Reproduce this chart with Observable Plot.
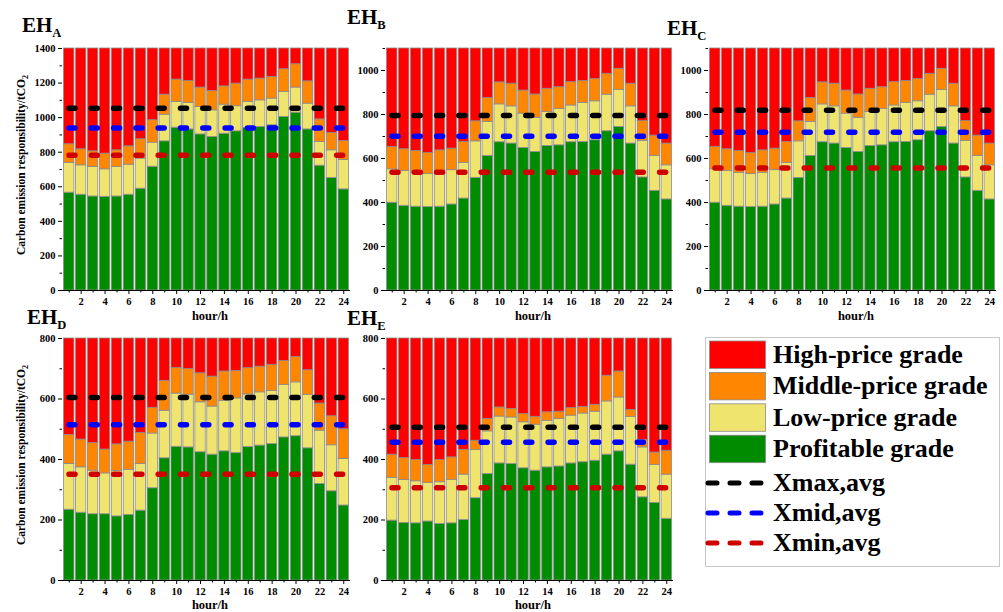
<!DOCTYPE html>
<html>
<head>
<meta charset="utf-8">
<script src="https://cdn.jsdelivr.net/npm/d3@7"></script>
<script src="https://cdn.jsdelivr.net/npm/@observablehq/plot@0.6"></script>
<style>
  body { margin: 0; background: #fff; }
  #fig { position: relative; width: 1003px; height: 612px; overflow: hidden; background: #fff; }
  #fig svg.panel { position: absolute; }
  #overlay { position: absolute; left: 0; top: 0; pointer-events: none; }
</style>
</head>
<body>
<div id="fig"></div>
<script>
// ---- shared categories -------------------------------------------------
const hours = d3.range(1, 25);
const hourTicks = [2, 4, 6, 8, 10, 12, 14, 16, 18, 20, 22, 24];
const grades = ["Profitable grade", "Low-price grade", "Middle-price grade", "High-price grade"];
const gradeColors = ["#008c00", "#efe46e", "#ff8600", "#ff0000"];
const avgNames = ["Xmax,avg", "Xmid,avg", "Xmin,avg"];
const avgColors = ["#000000", "#0000ff", "#d00000"];

// ---- EH_A: upper bound of each grade per hour (tCO2) ---------------------
const profitA = [566, 554, 544, 542, 544, 554, 589, 716, 863, 942, 932, 903, 888, 907, 921, 940, 946, 956, 1004, 1029, 932, 722, 651, 585];
const lowA    = [737, 724, 714, 701, 714, 728, 763, 855, 1017, 1091, 1085, 1062, 1042, 1075, 1066, 1091, 1100, 1110, 1149, 1174, 1081, 859, 811, 755];
const midA    = [846, 817, 805, 792, 811, 834, 875, 985, 1133, 1220, 1212, 1174, 1154, 1181, 1197, 1220, 1226, 1236, 1280, 1309, 1210, 990, 911, 865];
const avgA    = [1055, 940, 782];

// ---- EH_B ------------------------------------------------------------------
const profitB = [399, 385, 381, 379, 381, 391, 418, 512, 612, 674, 668, 648, 630, 657, 660, 674, 675, 683, 724, 743, 668, 514, 453, 414];
const lowB    = [551, 544, 535, 529, 535, 547, 580, 678, 766, 846, 837, 804, 785, 811, 825, 841, 853, 860, 890, 912, 837, 680, 612, 569];
const midB    = [653, 642, 634, 625, 637, 645, 675, 769, 875, 946, 940, 909, 891, 917, 924, 947, 952, 961, 985, 1008, 940, 770, 704, 668];
const avgB    = [796, 701, 538];

// ---- EH_C ------------------------------------------------------------------
const profitC = [399, 385, 381, 379, 381, 391, 418, 512, 612, 674, 668, 648, 630, 657, 660, 674, 675, 683, 724, 743, 668, 514, 453, 414];
const lowC    = [551, 544, 535, 529, 535, 547, 580, 678, 766, 846, 837, 804, 785, 811, 825, 841, 853, 860, 890, 912, 837, 680, 612, 569];
const midC    = [653, 642, 634, 625, 637, 645, 675, 769, 875, 946, 940, 909, 891, 917, 924, 947, 952, 961, 985, 1008, 940, 770, 704, 668];
const avgC    = [819, 719, 557];

// ---- EH_D ------------------------------------------------------------------
const profitD = [234, 224, 219, 219, 212, 217, 231, 305, 404, 442, 440, 424, 416, 427, 421, 441, 446, 451, 473, 477, 437, 319, 295, 248];
const lowD    = [385, 374, 363, 354, 362, 366, 385, 486, 561, 618, 614, 589, 575, 594, 602, 615, 622, 627, 646, 655, 614, 495, 447, 402];
const midD    = [481, 466, 454, 433, 450, 459, 488, 571, 660, 703, 699, 685, 674, 691, 693, 702, 707, 713, 726, 739, 695, 585, 543, 500];
const avgD    = [605, 515, 351];

// ---- EH_E ------------------------------------------------------------------
const profitE = [198, 190, 189, 195, 187, 189, 200, 272, 352, 387, 385, 371, 363, 374, 377, 387, 391, 396, 416, 427, 383, 275, 256, 204];
const lowE    = [339, 332, 328, 322, 325, 333, 350, 431, 493, 542, 539, 523, 515, 528, 534, 545, 552, 558, 592, 605, 541, 440, 382, 350];
const midE    = [416, 405, 398, 382, 398, 407, 432, 462, 534, 572, 567, 550, 541, 556, 558, 570, 574, 581, 677, 691, 564, 465, 423, 429];
const avgE    = [507, 457, 307];

// ---- layout ----------------------------------------------------------------
const FONT = "'Liberation Serif', 'Times New Roman', serif";
const PW = 288, PH = 242;              // plot area of each panel
const mL = 46, mR = 6, mT = 6, mB = 22;

const panels = [
  { sub: "A", axisX: 62,  top: 48,  yMax: 1400, profit: profitA, low: lowA, mid: midA, avg: avgA, tx: 22,  ty: 32 },
  { sub: "B", axisX: 385, top: 48,  yMax: 1100, profit: profitB, low: lowB, mid: midB, avg: avgB, tx: 347, ty: 24 },
  { sub: "C", axisX: 708, top: 48,  yMax: 1100, profit: profitC, low: lowC, mid: midC, avg: avgC, tx: 667, ty: 35 },
  { sub: "D", axisX: 62,  top: 338, yMax: 800,  profit: profitD, low: lowD, mid: midD, avg: avgD, tx: 27,  ty: 324 },
  { sub: "E", axisX: 385, top: 338, yMax: 800,  profit: profitE, low: lowE, mid: midE, avg: avgE, tx: 347, ty: 325 }
];

const fig = document.getElementById("fig");

function drawPanel(p) {
  // one record per coloured segment of each hourly bar
  const segs = [];
  hours.forEach((h, i) => {
    const bounds = [0, p.profit[i], p.low[i], p.mid[i], p.yMax];
    grades.forEach((g, k) => segs.push({ hour: h, grade: g, y1: bounds[k], y2: bounds[k + 1] }));
  });
  const avgRows = avgNames.map((n, k) => ({ name: n, value: p.avg[k] }));

  const svg = Plot.plot({
    width: PW + mL + mR,
    height: PH + mT + mB,
    marginLeft: mL, marginRight: mR, marginTop: mT, marginBottom: mB,
    style: { fontFamily: FONT, fontWeight: "bold", fontSize: "10.5px", color: "#000", background: "transparent", overflow: "visible" },
    x: { type: "band", domain: hours, padding: 0.13, round: false, label: null },
    y: { domain: [0, p.yMax], label: null },
    color: { domain: grades, range: gradeColors },
    marks: [
      Plot.barY(segs, { x: "hour", y1: "y1", y2: "y2", fill: "grade", stroke: "#8c8c8c", strokeWidth: 0.8 }),
      Plot.ruleY(avgRows, {
        y: "value", stroke: (d) => avgColors[avgNames.indexOf(d.name)],
        strokeWidth: 5.5, strokeDasharray: "6,16.3", strokeDashoffset: 15.3, strokeLinecap: "round"
      }),
      Plot.ruleY([0], { stroke: "#000", strokeWidth: 1 }),
      Plot.axisY({ ticks: d3.range(0, p.yMax + 1, 200), tickFormat: "d", tickSize: 4, tickPadding: 3, line: true, label: null, stroke: "#000" }),
      Plot.axisY({ ticks: d3.range(100, p.yMax + 1, 200), tickSize: 2.5, tickFormat: () => "", label: null }),
      Plot.axisX({ ticks: hourTicks, tickSize: 4, tickPadding: 3, label: null }),
      Plot.axisX({ ticks: hours.filter((h) => h % 2), tickSize: 2.5, tickFormat: () => "", label: null })
    ]
  });
  svg.classList.add("panel");
  svg.style.left = (p.axisX - mL) + "px";
  svg.style.top = (p.top - mT) + "px";
  fig.appendChild(svg);
}

panels.forEach(drawPanel);

// ---- titles, axis titles and legend -------------------------------------
const ov = d3.select(fig).append("svg")
  .attr("id", "overlay").attr("width", 1003).attr("height", 612)
  .style("font-family", FONT).style("font-weight", "bold");

panels.forEach((p) => {
  const t = ov.append("text").attr("x", p.tx).attr("y", p.ty).attr("font-size", 21);
  t.append("tspan").text("EH");
  t.append("tspan").attr("font-size", 12.5).attr("dy", 5).text(p.sub);

  ov.append("text")
    .attr("x", p.axisX + PW / 2 + 4).attr("y", p.top + PH + (p.top < 100 ? 30 : 29))
    .attr("text-anchor", "middle").attr("font-size", 12.5).text("hour/h");
});

[panels[0], panels[3]].forEach((p) => {
  const cy = p.top + PH / 2 - 4;
  const t = ov.append("text")
    .attr("transform", `translate(25,${cy}) rotate(-90)`)
    .attr("text-anchor", "middle").attr("font-size", 11.5);
  t.append("tspan").text("Carbon emission responsibility/tCO");
  t.append("tspan").attr("font-size", 8).attr("dy", 3).text("2");
});

// legend box
const lg = ov.append("g");
lg.append("rect").attr("x", 705.5).attr("y", 337.5).attr("width", 294).attr("height", 229)
  .attr("fill", "#fff").attr("stroke", "#c8c8c8").attr("stroke-width", 1);
const legendGrades = grades.slice().reverse();
legendGrades.forEach((g, i) => {
  const y = 341 + i * 31.4;
  lg.append("rect").attr("x", 709.5).attr("y", y).attr("width", 56).attr("height", 27.5)
    .attr("fill", gradeColors[grades.indexOf(g)]).attr("stroke", "#8c8c8c").attr("stroke-width", 0.8);
  lg.append("text").attr("x", 773).attr("y", y + 22).attr("font-size", 26).text(g);
});
avgNames.forEach((n, i) => {
  const y = 483 + i * 30;
  lg.append("line").attr("x1", 708).attr("x2", 761).attr("y1", y).attr("y2", y)
    .attr("stroke", avgColors[i]).attr("stroke-width", 5)
    .attr("stroke-dasharray", "9,13").attr("stroke-linecap", "round");
  lg.append("text").attr("x", 773).attr("y", y + 8).attr("font-size", 26).text(n);
});
</script>
</body>
</html>
